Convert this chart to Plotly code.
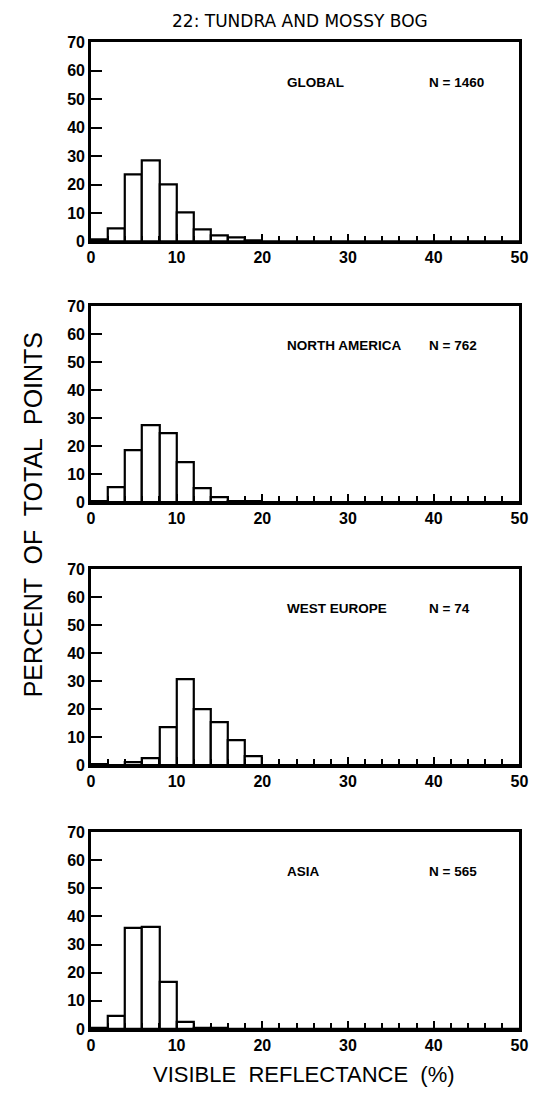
import plotly.graph_objects as go
from plotly.subplots import make_subplots

bin_centers = [1 + 2 * i for i in range(25)]
panel_names = ["GLOBAL", "NORTH AMERICA", "WEST EUROPE", "ASIA"]
panel_counts = ["N = 1460", "N = 762", "N = 74", "N = 565"]

global_pct = [0.7, 4.6, 23.4, 28.5, 20.1, 10.3, 4.2, 2.0, 1.2, 0.4] + [0] * 15
north_america_pct = [0.3, 5.4, 18.5, 27.6, 24.8, 14.2, 5.0, 1.6, 0.5, 0.2] + [0] * 15
west_europe_pct = [0.3, 0.0, 1.2, 2.6, 13.4, 30.6, 19.9, 15.5, 8.9, 3.3] + [0] * 15
asia_pct = [0.3, 4.7, 35.8, 36.4, 16.5, 2.6, 0.2, 0.2, 0.1, 0.1] + [0] * 15
series = [global_pct, north_america_pct, west_europe_pct, asia_pct]

x_tick_labels = ["0", "10", "20", "30", "40", "50"]
y_tick_labels = ["0", "10", "20", "30", "40", "50", "60", "70"]

W, H = 545, 1100
x_px = (89, 528)
y_px = [(35, 237), (303, 502), (570, 769), (837, 1037)]

fig = make_subplots(rows=4, cols=1)
tick_font = dict(family="Liberation Sans", size=16, color="black", weight="bold")

for i, vals in enumerate(series):
    r = i + 1
    fig.add_trace(go.Bar(x=bin_centers, y=vals, width=2,
                         marker=dict(color="white", line=dict(color="black", width=2.2)),
                         showlegend=False), row=r, col=1)
    top, bot = y_px[i]
    fig.update_xaxes(domain=[x_px[0] / W, x_px[1] / W], range=[0, 50],
                     showline=True, mirror=True, linecolor="black", linewidth=2.5,
                     ticks="inside", ticklen=8, tickwidth=2, tickcolor="black",
                     tickvals=[0, 10, 20, 30, 40, 50], ticktext=x_tick_labels,
                     minor=dict(ticks="inside", dtick=2, ticklen=6, tickwidth=1.8, tickcolor="black"),
                     showgrid=False, zeroline=False, tickfont=tick_font, row=r, col=1)
    fig.update_yaxes(domain=[1 - bot / H, 1 - top / H], range=[0, 70],
                     showline=True, mirror=True, linecolor="black", linewidth=2.5,
                     ticks="inside", ticklen=11, tickwidth=2, tickcolor="black",
                     tickvals=[0, 10, 20, 30, 40, 50, 60, 70], ticktext=y_tick_labels,
                     showgrid=False, zeroline=False, tickfont=tick_font, row=r, col=1)
    xref = "x" if r == 1 else f"x{r}"
    yref = "y" if r == 1 else f"y{r}"
    ann_font = dict(family="Liberation Sans", size=13.5, color="black", weight="bold")
    fig.add_annotation(x=22.7, y=56, xref=xref, yref=yref, text=panel_names[i],
                       showarrow=False, xanchor="left", yanchor="middle", font=ann_font)
    fig.add_annotation(x=39.2, y=56, xref=xref, yref=yref, text=panel_counts[i],
                       showarrow=False, xanchor="left", yanchor="middle", font=ann_font)

fig.add_annotation(x=303 / W, y=1 - 13 / H, xref="paper", yref="paper",
                   text="22: TUNDRA AND MOSSY BOG", showarrow=False,
                   xanchor="center", yanchor="middle",
                   font=dict(family="DejaVu Sans", size=17, color="black"))
fig.add_annotation(x=30 / W, y=1 - 515 / H, xref="paper", yref="paper",
                   text="PERCENT  OF  TOTAL  POINTS", showarrow=False, textangle=-90,
                   xanchor="center", yanchor="middle",
                   font=dict(family="Liberation Sans", size=25, color="black"))
fig.add_annotation(x=307 / W, y=1 - 1083 / H, xref="paper", yref="paper",
                   text="VISIBLE  REFLECTANCE  (%)", showarrow=False,
                   xanchor="center", yanchor="middle",
                   font=dict(family="Liberation Sans", size=22, color="black"))

fig.update_layout(width=W, height=H, margin=dict(l=0, r=0, t=0, b=0),
                  plot_bgcolor="white", paper_bgcolor="white", bargap=0)
fig.write_html("out.html")
